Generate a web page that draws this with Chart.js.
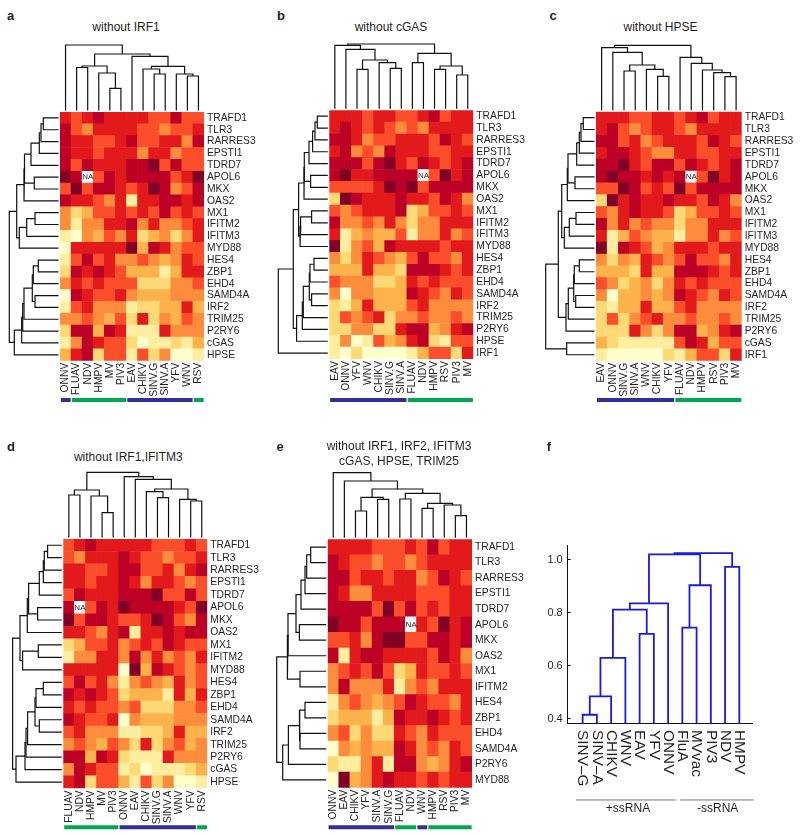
<!DOCTYPE html>
<html>
<head>
<meta charset="utf-8">
<title>Heatmaps without single genes</title>
<script src="https://cdn.jsdelivr.net/npm/chart.js@4"></script>
<style>
  body { margin: 0; background: #fff; width: 800px; height: 837px; position: relative; overflow: hidden; font-family: "Liberation Sans", Arial, sans-serif; color: #231f20; }
  canvas { position: absolute; }
  .txt { position: absolute; transform: translate(-50%, -50%); white-space: nowrap; font-size: 12px; }
  .letter { font-weight: bold; font-size: 13px; }
</style>
</head>
<body>
<script>
// Levels are indices into the colour ramp, null means NA
const colsA = ["ONNV","FLUAV","NDV","HMPV","MV","PIV3","EAV","CHIKV","SINV.G","SINV.A","YFV","WNV","RSV"];
const rowsA = ["TRAFD1","TLR3","RARRES3","EPSTI1","TDRD7","APOL6","MKX","OAS2","MX1","IFITM2","IFITM3","MYD88","HES4","ZBP1","EHD4","SAMD4A","IRF2","TRIM25","P2RY6","cGAS","HPSE"];
const valsA = [
  [6,5,6,7,6,6,6,6,5,5,7,5,5],
  [7,5,4,6,6,6,6,5,5,4,5,5,6],
  [7,6,6,5,5,6,7,5,5,6,6,4,7],
  [7,6,6,5,6,6,6,4,6,6,4,5,5],
  [7,5,7,6,6,6,7,7,8,5,7,5,5],
  [8,7,null,5,7,6,7,7,7,7,5,6,8],
  [5,8,5,7,7,6,5,6,8,7,4,5,7],
  [7,6,6,5,4,6,1,6,6,7,7,6,7],
  [4,2,3,5,5,6,5,6,5,7,5,6,5],
  [4,1,4,4,6,6,7,4,6,4,4,5,6],
  [1,0,4,3,5,4,6,2,3,4,2,4,6],
  [0,6,6,6,6,6,8,3,7,6,4,5,5],
  [1,5,7,5,6,4,4,5,4,3,4,6,5],
  [2,7,6,7,6,5,3,3,3,1,3,6,6],
  [4,6,5,6,5,5,5,2,2,2,4,4,5],
  [0,7,6,5,5,6,4,3,3,3,4,4,4],
  [1,5,6,4,4,4,1,2,2,3,3,6,3],
  [4,4,5,4,3,5,2,6,2,4,3,5,4],
  [2,7,7,3,7,6,1,1,1,6,4,4,4],
  [1,4,7,6,5,5,2,0,1,1,2,1,3],
  [3,6,7,2,5,5,1,5,2,4,0,0,1]
];
const groupsA = [[0,1,"pos"],[1,6,"neg"],[6,12,"pos"],[12,13,"neg"]];
const topTreeA = [[1,2,44.5],[4,5,23.7],[3,-2,39],[-1,-3,46],[8,9,38],[7,-5,43],[11,12,36],[10,-7,38],[-6,-8,45.7],[6,-9,55.7],[-4,-10,58],[0,-11,67]];
const leftTreeA = [[0,1,16.7],[-1,2,19],[-2,3,20.7],[-3,4,29],[5,6,25.7],[-4,-5,35.5],[-6,7,36],[8,9,25],[-8,10,33.3],[-9,11,40.7],[-7,-10,43.3],[12,13,21.7],[-12,14,26.7],[15,16,25],[-13,-14,27.7],[-15,17,36],[-16,18,37.3],[-17,19,38.3],[-18,20,45.7],[-11,-19,50.7]];

const colsB = ["EAV","ONNV","YFV","WNV","CHIKV","SINV.G","SINV.A","FLUAV","NDV","HMPV","RSV","PIV3","MV"];
const rowsB = ["TRAFD1","TLR3","RARRES3","EPSTI1","TDRD7","APOL6","MKX","OAS2","MX1","IFITM2","IFITM3","MYD88","HES4","ZBP1","EHD4","SAMD4A","IRF2","TRIM25","P2RY6","HPSE","IRF1"];
const valsB = [
  [6,6,6,5,6,6,5,5,6,7,5,6,6],
  [6,7,6,5,6,5,4,5,4,6,6,6,6],
  [7,7,6,4,5,5,6,6,6,5,7,6,5],
  [6,7,4,5,4,7,6,6,6,5,5,6,6],
  [7,7,7,5,7,8,6,5,7,6,5,6,7],
  [7,8,6,6,7,7,7,7,null,5,8,6,7],
  [5,5,5,5,6,8,7,8,5,7,7,7,7],
  [2,8,7,6,6,6,7,6,6,5,7,6,4],
  [5,4,5,6,6,6,7,2,3,5,5,6,5],
  [7,4,4,5,4,6,4,2,4,4,6,6,6],
  [6,1,3,4,3,3,5,1,4,4,6,4,5],
  [8,1,4,5,3,7,6,6,6,6,5,6,6],
  [4,2,4,6,5,4,3,5,7,5,5,4,6],
  [3,3,3,6,3,3,2,7,7,7,6,5,6],
  [5,4,4,4,2,2,3,6,5,6,5,5,5],
  [4,0,4,4,3,3,3,7,6,5,4,6,5],
  [2,1,3,6,3,3,3,5,6,4,4,4,4],
  [2,5,4,5,6,2,4,4,5,4,4,5,4],
  [2,2,4,4,2,2,6,7,7,3,4,6,7],
  [1,4,0,1,5,3,4,6,7,2,1,5,5],
  [1,0,2,0,0,0,0,1,3,5,5,2,6]
];
const groupsB = [[0,7,"pos"],[7,13,"neg"]];
const topTreeB = [[2,3,41],[5,6,42],[4,-2,47.7],[-1,-3,50.3],[1,-4,61],[0,-5,65],[7,8,47.7],[9,10,41],[11,12,35.3],[-8,-9,44.3],[-7,-10,57],[-6,-11,66.3]];
const leftTreeB = [[0,1,12],[-1,2,14.3],[-2,3,16.7],[-3,4,20.3],[5,6,18.7],[-4,-5,25],[-6,7,25.3],[8,9,17.7],[-8,10,28.7],[-9,11,29.3],[-7,-10,30.7],[12,13,15.3],[-12,14,19.3],[15,16,17.7],[-13,-14,20],[-15,17,26],[-16,18,27],[-17,19,32.7],[-11,-18,36],[-19,20,51]];

const colsC = ["EAV","ONNV","SINV.G","SINV.A","WNV","CHIKV","YFV","FLUAV","NDV","HMPV","RSV","PIV3","MV"];
const rowsC = ["TRAFD1","TLR3","RARRES3","EPSTI1","TDRD7","APOL6","MKX","OAS2","MX1","IFITM2","IFITM3","MYD88","HES4","ZBP1","EHD4","SAMD4A","IRF2","TRIM25","P2RY6","cGAS","IRF1"];
const valsC = [
  [6,6,6,5,5,6,6,5,6,7,5,6,6],
  [6,7,5,4,5,6,6,5,4,6,6,6,6],
  [7,7,5,6,4,5,6,6,6,5,7,6,5],
  [6,7,7,6,5,4,4,6,6,5,5,6,6],
  [7,7,8,6,5,7,7,5,7,6,5,6,7],
  [7,8,7,7,6,7,6,7,null,5,8,6,7],
  [5,5,8,7,5,6,5,8,5,7,7,7,7],
  [2,8,6,7,6,6,7,6,6,5,7,6,4],
  [5,4,6,7,6,6,5,2,3,5,5,6,5],
  [7,4,6,4,5,4,4,2,4,4,6,6,6],
  [6,1,3,5,4,3,3,1,4,4,6,4,5],
  [8,1,7,6,5,3,4,6,6,6,5,6,6],
  [4,2,4,3,6,5,4,5,7,5,5,4,6],
  [3,3,3,2,6,3,3,7,7,7,6,5,6],
  [5,4,2,3,4,2,4,6,5,6,5,5,5],
  [4,0,3,3,4,3,4,7,6,5,4,6,5],
  [2,1,3,3,6,3,3,5,6,4,4,4,4],
  [2,5,2,4,5,6,4,4,5,4,4,5,4],
  [2,2,2,6,4,2,4,7,7,3,4,6,7],
  [3,2,1,1,1,1,1,5,7,6,3,5,5],
  [1,0,0,0,0,0,2,1,3,5,5,2,6]
];
const groupsC = [[0,7,"pos"],[7,13,"neg"]];
const topTreeC = [[2,3,40.7],[5,6,35.3],[4,-2,42.3],[-1,-3,46.7],[1,-4,59.3],[0,-5,64],[11,12,35],[10,-7,39],[9,-8,41.7],[8,-9,48.3],[7,-10,54.3],[-6,-11,66.3]];
const leftTreeC = [[0,1,12.7],[-1,2,15],[-2,3,16.7],[-3,4,19.3],[5,6,21],[-4,-5,28],[-6,7,28.7],[8,9,20],[-8,10,26.7],[-9,11,31.7],[-7,-10,34.3],[12,13,16.7],[-12,14,21.7],[15,16,20.3],[-13,-14,22.3],[-15,17,27.7],[-16,18,30],[-11,-17,37.7],[19,20,29.3],[-18,-19,50.3]];

const colsD = ["FLUAV","NDV","HMPV","MV","PIV3","ONNV","EAV","CHIKV","SINV.G","SINV.A","WNV","YFV","RSV"];
const rowsD = ["TRAFD1","TLR3","RARRES3","EPSTI1","TDRD7","APOL6","MKX","OAS2","MX1","IFITM2","MYD88","HES4","ZBP1","EHD4","SAMD4A","IRF2","TRIM25","P2RY6","cGAS","HPSE"];
const valsD = [
  [5,6,7,6,6,6,6,6,5,5,5,6,5],
  [5,4,6,6,6,7,6,5,5,4,5,5,6],
  [6,6,5,5,6,7,7,5,5,6,4,6,7],
  [6,6,5,6,6,7,6,4,6,6,5,4,5],
  [5,7,6,6,6,7,7,7,8,5,5,7,5],
  [7,null,5,7,6,8,7,7,7,7,6,5,8],
  [8,5,7,7,6,5,5,6,8,7,5,4,7],
  [6,6,5,4,6,7,1,6,6,7,6,7,7],
  [2,3,5,5,6,4,5,6,5,7,6,5,5],
  [1,4,4,6,6,4,7,4,6,4,5,4,6],
  [6,6,6,6,6,0,8,3,7,6,5,4,5],
  [5,7,5,6,4,1,4,5,4,3,6,4,5],
  [7,6,7,6,5,2,3,3,3,1,6,3,6],
  [6,5,6,5,5,4,5,2,2,2,4,4,5],
  [7,6,5,5,6,0,4,3,3,3,4,4,4],
  [5,6,4,4,4,1,1,2,2,3,6,3,3],
  [4,5,4,3,5,4,2,6,2,4,5,3,4],
  [7,7,3,7,6,2,1,1,1,6,4,4,4],
  [4,7,6,5,5,1,2,0,1,1,1,2,3],
  [6,7,2,5,5,3,1,5,2,4,0,0,1]
];
const groupsD = [[0,5,"neg"],[5,12,"pos"],[12,13,"neg"]];
const topTreeD = [[0,1,44],[3,4,26.3],[2,-2,43],[-1,-3,49],[8,9,41.3],[7,-5,47.3],[11,12,38],[10,-7,39.7],[-6,-8,50],[6,-9,59.7],[5,-10,62.3],[-4,-11,66.7]];
const leftTreeD = [[0,1,15.7],[-1,2,19],[-2,3,20],[-3,4,24],[5,6,25.7],[-4,-5,34.7],[-6,7,36],[8,9,25],[-8,10,40.7],[-7,-9,43.3],[11,12,20],[-11,13,27.3],[14,15,24],[-12,-13,28.3],[-14,16,35.7],[-15,17,37.3],[-16,18,38.3],[-17,19,47.3],[-10,-18,50.7]];

const colsE = ["ONNV","EAV","CHIKV","YFV","SINV.A","SINV.G","FLUAV","NDV","WNV","HMPV","RSV","PIV3","MV"];
const rowsE = ["TRAFD1","TLR3","RARRES3","EPSTI1","TDRD7","APOL6","MKX","OAS2","MX1","IFITM2","HES4","ZBP1","EHD4","SAMD4A","P2RY6","MYD88"];
const valsE = [
  [6,6,6,6,5,5,5,6,5,7,5,6,6],
  [7,6,5,5,4,5,5,4,5,6,6,6,6],
  [7,7,5,6,6,5,6,6,4,5,7,6,5],
  [7,6,4,4,6,6,6,6,5,5,5,6,6],
  [7,7,7,7,5,8,5,7,5,6,5,6,6],
  [8,7,7,5,7,7,7,null,6,5,8,6,7],
  [5,5,6,4,7,8,8,5,5,7,7,6,7],
  [7,1,6,7,7,6,6,6,6,5,7,6,4],
  [4,5,6,5,7,5,2,3,6,5,5,6,5],
  [4,7,4,4,4,6,1,4,5,4,6,6,6],
  [1,4,5,4,3,4,5,7,6,5,5,4,6],
  [2,3,3,3,1,3,7,6,6,7,6,5,6],
  [4,5,2,4,2,2,6,5,4,6,5,5,5],
  [0,4,3,4,3,3,7,6,4,5,4,6,5],
  [2,1,1,4,6,1,7,7,4,3,4,6,7],
  [0,8,3,4,6,7,6,6,5,6,5,6,6]
];
const groupsE = [[0,6,"pos"],[6,8,"neg"],[8,9,"pos"],[9,13,"neg"]];
const topTreeE = [[2,3,28.3],[4,5,40],[-1,-2,42],[6,7,40.3],[8,9,31],[11,12,23.7],[10,-6,34.3],[-5,-7,36],[-4,-8,46],[-3,-9,50.3],[1,-10,58.3],[0,-11,66.7]];
const leftTreeE = [[0,1,17],[-1,2,21],[-2,3,22.7],[-3,4,26.7],[5,6,28.3],[-4,-5,31.7],[-6,7,39.7],[8,9,27.7],[-7,-8,40.3],[10,11,22.7],[12,13,27.7],[-10,-11,28.3],[-12,14,39.3],[-13,15,45],[-9,-14,51]];

const leavesF = ["SINV–G","SINV–A","CHIKV","WNV","EAV","YFV","ONNV","FluA","MVvac","PIV3","NDV","HMPV"];
const treeF = [[0,1,0.415],[-1,2,0.484],[-2,3,0.629],[4,5,0.72],[-3,-4,0.811],[-5,6,0.835],[7,8,0.743],[-7,9,0.903],[10,11,0.972],[-6,-8,1.019],[-10,-9,1.024]];
const ticksF = [0.4, 0.6, 0.8, 1.0];
const rnaGroupsF = [[-0.47, 6.56], [6.84, 12]];

const ramp = ["#ffffcc","#ffeda0","#fed976","#feb24c","#fd8d3c","#fc4e2a","#e31a1c","#bd0026","#800026"];
const groupColor = { pos: "#2e3192", neg: "#00a651" };
const ink = "#231f20";
const sans = "'Liberation Sans', Arial, sans-serif";

Chart.defaults.animation = false;
Chart.defaults.font.family = sans;
Chart.defaults.color = ink;

function addText(str, x, y, cls) {
  const d = document.createElement("div");
  d.className = "txt " + (cls || "");
  d.textContent = str;
  d.style.left = x + "px";
  d.style.top = y + "px";
  document.body.appendChild(d);
}

// merges: [a, b, height], a >= 0 is a leaf, a < 0 is the earlier merge number -a
function treePaths(merges, leafOffset, leafHeight) {
  const nodes = [];
  const at = i => i >= 0 ? { pos: i + leafOffset, h: leafHeight } : nodes[-i - 1];
  return merges.map(([a, b, h]) => {
    const pa = at(a), pb = at(b);
    nodes.push({ pos: (pa.pos + pb.pos) / 2, h });
    return [[pa.pos, pa.h], [pa.pos, h], [pb.pos, h], [pb.pos, pb.h]];
  });
}

function lineSet(data, color, width) {
  return { type: "line", data, borderColor: color, borderWidth: width, pointRadius: 0, tension: 0, clip: false, fill: false };
}

function heatPanel(p) {
  const rows = p.rows, cols = p.cols, vals = p.vals;
  const colW = (p.right - p.left) / cols.length;
  const rowH = (p.bottom - p.top) / rows.length;
  const axisW = 58, axisH = 42;
  const boxL = Math.floor(p.left) - 60, boxT = Math.floor(p.top) - 75;
  const boxW = Math.ceil(p.right) - boxL + axisW + 4, boxH = Math.ceil(p.bottom) - boxT + axisH + 4 + 10;

  const cells = [], colors = [];
  vals.forEach((row, r) => row.forEach((v, c) => {
    cells.push({ x: c + 0.5, y: [r, r + 1] });
    colors.push(v === null ? "#ffffff" : ramp[v]);
  }));

  const datasets = [{ type: "bar", data: cells, backgroundColor: colors, barPercentage: 1, categoryPercentage: 1, grouped: false }];
  treePaths(p.topTree, 0.5, 1.5).forEach(path => {
    datasets.push(lineSet(path.map(([pos, h]) => ({ x: pos, y: -h / rowH })), "#111", 1.2));
  });
  treePaths(p.leftTree, 0.5, 1.5).forEach(path => {
    datasets.push(lineSet(path.map(([pos, h]) => ({ x: -h / colW, y: pos })), "#111", 1.2));
  });
  const barY = rows.length + (p.stripY - p.bottom) / rowH;
  p.groups.forEach(([from, to, kind]) => {
    datasets.push(lineSet([{ x: from + 0.08, y: barY }, { x: to - 0.03, y: barY }], groupColor[kind], 4));
  });

  const naPlugin = {
    id: "naLabel",
    afterDraw(chart) {
      const ctx = chart.ctx;
      ctx.save();
      ctx.font = "8px " + sans;
      ctx.fillStyle = ink;
      ctx.textAlign = "center";
      ctx.textBaseline = "middle";
      vals.forEach((row, r) => row.forEach((v, c) => {
        if (v === null) ctx.fillText("NA", chart.scales.x.getPixelForValue(c + 0.5), chart.scales.y.getPixelForValue(r + 0.5));
      }));
      ctx.restore();
    }
  };

  const canvas = document.createElement("canvas");
  canvas.width = boxW;
  canvas.height = boxH;
  canvas.style.left = boxL + "px";
  canvas.style.top = boxT + "px";
  document.body.appendChild(canvas);

  new Chart(canvas, {
    type: "bar",
    data: { datasets },
    plugins: [naPlugin],
    options: {
      responsive: false,
      layout: { padding: {
        left: p.left - boxL,
        top: p.top - boxT,
        right: boxL + boxW - p.right - axisW,
        bottom: boxT + boxH - p.bottom - axisH
      } },
      plugins: { legend: { display: false }, tooltip: { enabled: false } },
      scales: {
        x: {
          type: "linear", offset: false, min: 0, max: cols.length,
          grid: { display: false, drawTicks: false }, border: { display: false },
          afterBuildTicks: s => { s.ticks = cols.map((_, i) => ({ value: i + 0.5 })); },
          afterFit: s => { s.height = axisH; },
          ticks: { autoSkip: false, minRotation: 90, maxRotation: 90, padding: 2, font: { size: 10.3 }, color: ink, callback: v => cols[v - 0.5] }
        },
        y: {
          type: "linear", position: "right", reverse: true, min: 0, max: rows.length,
          grid: { display: false, drawTicks: false }, border: { display: false },
          afterBuildTicks: s => { s.ticks = rows.map((_, i) => ({ value: i + 0.5 })); },
          afterFit: s => { s.width = axisW; },
          ticks: { autoSkip: false, padding: 3, font: { size: 10.3 }, color: ink, callback: v => rows[v - 0.5] }
        }
      }
    }
  });
}

heatPanel({ cols: colsA, rows: rowsA, vals: valsA, groups: groupsA, topTree: topTreeA, leftTree: leftTreeA, left: 60, right: 204, top: 112, bottom: 360.7, stripY: 400 });
heatPanel({ cols: colsB, rows: rowsB, vals: valsB, groups: groupsB, topTree: topTreeB, leftTree: leftTreeB, left: 329.3, right: 473.3, top: 110.3, bottom: 359, stripY: 400 });
heatPanel({ cols: colsC, rows: rowsC, vals: valsC, groups: groupsC, topTree: topTreeC, leftTree: leftTreeC, left: 596, right: 741.7, top: 111.7, bottom: 360.7, stripY: 400 });
heatPanel({ cols: colsD, rows: rowsD, vals: valsD, groups: groupsD, topTree: topTreeD, leftTree: leftTreeD, left: 63.3, right: 207.3, top: 539, bottom: 788.3, stripY: 827.3 });
heatPanel({ cols: colsE, rows: rowsE, vals: valsE, groups: groupsE, topTree: topTreeE, leftTree: leftTreeE, left: 327.7, right: 472, top: 539.3, bottom: 787.7, stripY: 827.3 });

// Panel f: dendrogram with a real distance axis
const canvasF = document.createElement("canvas");
canvasF.width = 270;
canvasF.height = 300;
canvasF.style.left = "530px";
canvasF.style.top = "530px";
document.body.appendChild(canvasF);

const dataF = treePaths(treeF, 0, 0.384).map(path =>
  lineSet(path.map(([pos, h]) => ({ x: pos, y: h })), "#1a1ae0", 1.8));
rnaGroupsF.forEach(([from, to]) => {
  dataF.push(lineSet([{ x: from, y: 0.094 }, { x: to, y: 0.094 }], "#555", 0.8));
});

new Chart(canvasF, {
  type: "line",
  data: { datasets: dataF },
  options: {
    responsive: false,
    layout: { padding: { left: 7.7, top: 15.7, right: 47.3, bottom: 37 } },
    plugins: { legend: { display: false }, tooltip: { enabled: false } },
    scales: {
      x: {
        type: "linear", min: -1.05, max: 11.94,
        grid: { display: false, drawTicks: false }, border: { color: "#111", width: 1 },
        afterBuildTicks: s => { s.ticks = leavesF.map((_, i) => ({ value: i })); },
        afterFit: s => { s.height = 70; s._getXAxisLabelAlignment = () => "left"; },
        ticks: { autoSkip: false, minRotation: -90, maxRotation: -90, padding: 7, font: { size: 15.4 }, color: ink, callback: v => leavesF[v] }
      },
      y: {
        type: "linear", min: 0.384, max: 1.052,
        grid: { display: true, drawOnChartArea: false, drawTicks: true, tickLength: -3, color: "#111" }, border: { color: "#111", width: 1 },
        afterBuildTicks: s => { s.ticks = ticksF.map(v => ({ value: v })); },
        afterFit: s => { s.width = 30; },
        ticks: { padding: 8, font: { size: 11 }, color: ink, callback: v => v.toFixed(1) }
      }
    }
  }
});

addText("a", 10.5, 15, "letter");
addText("b", 281, 15, "letter");
addText("c", 553, 15, "letter");
addText("d", 11, 445.7, "letter");
addText("e", 280, 446, "letter");
addText("f", 549, 446, "letter");
addText("without IRF1", 126, 27);
addText("without cGAS", 391, 27);
addText("without HPSE", 660.5, 27);
addText("without IRF1,IFITM3", 128.3, 456.7);
addText("without IRF1, IRF2, IFITM3", 399, 446);
addText("cGAS, HPSE, TRIM25", 399, 461);
addText("+ssRNA", 628, 807.7);
addText("-ssRNA", 717.7, 807.7);
</script>
</body>
</html>
